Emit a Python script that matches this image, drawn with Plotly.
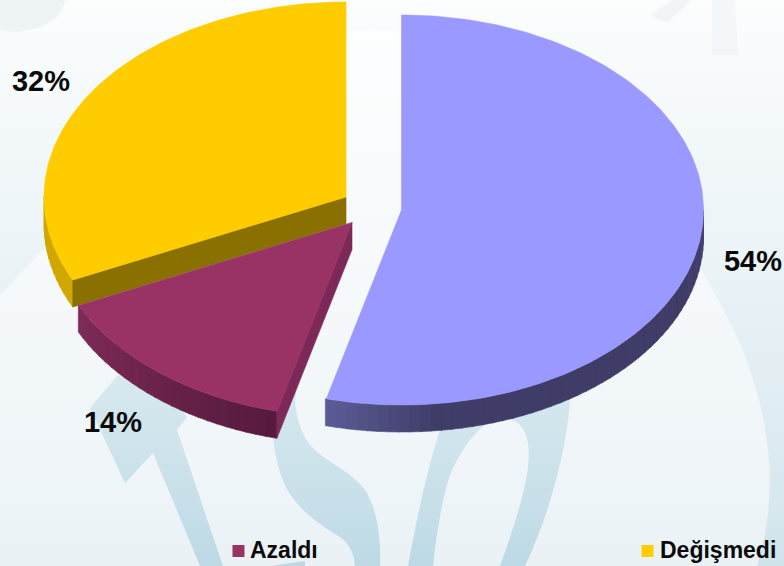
import math
import plotly.graph_objects as go

categories = ["Arttı", "Azaldı", "Değişmedi"]
percent_values = [54, 14, 32]
legend_items = ["Azaldı", "Değişmedi"]

top_colors = ["#9999ff", "#993366", "#ffcc00"]
cut_colors = ["#5a5a94", "#7d2856", "#8a7000"]
side_start = ["#5c5c96", "#7e2b58", "#d0a800"]   # at the slice's left end
side_end = ["#3f3d68", "#561a3e", "#d0a800"]     # towards the slice's right end
centers = [(401.5, 210), (352, 222.5), (346, 197)]
RX, RY, DEPTH = 302, 195, 27
W, H = 784, 566


def pt(c, deg, dz=0):
    a = math.radians(deg)
    return c[0] + RX * math.sin(a), c[1] - RY * math.cos(a) + dz


def hex2rgb(h):
    return [int(h[i:i + 2], 16) for i in (1, 3, 5)]


def mix(a, b, t):
    ra, rb = hex2rgb(a), hex2rgb(b)
    return "rgb(%d,%d,%d)" % tuple(round(x + (y - x) * t) for x, y in zip(ra, rb))


fig = go.Figure()


def poly(pts, color):
    xs = [p[0] for p in pts] + [pts[0][0]]
    ys = [p[1] for p in pts] + [pts[0][1]]
    fig.add_trace(go.Scatter(x=xs, y=ys, mode="lines", fill="toself", fillcolor=color,
                             line=dict(color=color, width=0.6), hoverinfo="skip",
                             showlegend=False))


# slice angles from the values, clockwise from 12 o'clock
total = sum(percent_values)
angles = []
acc = 0
for v in percent_values:
    angles.append((acc / total * 360, (acc + v) / total * 360))
    acc += v

# draw order: yellow, maroon, purple
for i in (2, 1, 0):
    c = centers[i]
    a0, a1 = angles[i]
    # outer rim (only the front half of the ellipse shows)
    s0, s1 = max(a0, 90), min(a1, 270)
    if s1 > s0:
        n = max(2, int((s1 - s0) / 2))
        for k in range(n):
            t0 = s0 + (s1 - s0) * k / n
            t1 = s0 + (s1 - s0) * (k + 1) / n + 0.2
            tc = (s1 - (t0 + t1) / 2) / (s1 - s0)   # 0 at the left end, 1 at the right end
            if i == 0:
                tc = min(1, tc * 5)                 # purple darkens quickly
            poly([pt(c, t0), pt(c, t1), pt(c, t1, DEPTH), pt(c, t0, DEPTH)],
                 mix(side_start[i], side_end[i], tc))
    # visible cut face
    if i in (1, 2):
        poly([c, pt(c, a0), pt(c, a0, DEPTH), (c[0], c[1] + DEPTH)], cut_colors[i])
    # top face
    steps = int((a1 - a0) / 1) + 1
    arc = [pt(c, a0 + (a1 - a0) * k / steps) for k in range(steps + 1)]
    poly([c] + arc, top_colors[i])

# percentage labels
label_x = [753, 113, 41]
label_y = [264, 425, 84]
fig.add_trace(go.Scatter(x=label_x, y=label_y, mode="text",
                         text=[f"{v}%" for v in percent_values], textposition="middle center",
                         textfont=dict(family="Liberation Sans", size=29, color="#0a0a0a", weight="bold"),
                         hoverinfo="skip", showlegend=False))

# legend
legend_x = [238.5, 647.5]
legend_y = [551, 551]
fig.add_trace(go.Scatter(x=legend_x, y=legend_y, mode="markers",
                         marker=dict(symbol="square", size=12, color=[top_colors[1], top_colors[2]],
                                     line=dict(width=0)),
                         hoverinfo="skip", showlegend=False))
fig.add_trace(go.Scatter(x=[250, 660], y=[552, 552], mode="text", text=legend_items,
                         textposition="middle right",
                         textfont=dict(family="Liberation Sans", size=23, color="#0a0a0a", weight="bold"),
                         hoverinfo="skip", showlegend=False))

# background watermark
BAND = "#bcd9e5"
OUTER = "#cfe3eb"
shapes = []


def path(d, color, opacity=1.0):
    shapes.append(dict(type="path", path=d, xref="x", yref="y", fillcolor=color, opacity=opacity,
                       line=dict(width=0), layer="below"))


path("M0,0 L784,0 L784,566 L757,566 C777,500 775,430 740,343 C715,290 690,250 640,170 "
     "C560,70 450,30 370,30 C250,30 100,190 0,295 Z", OUTER)
path("M118,375 L90,408 L125,483 L153,453 L200,566 L223,566 L177,430 L187,417 L160,380 Z", BAND)
path("M273,437 C276,465 283,485 292,497 C305,515 325,528 340,537 C350,545 354,553 355,566 L380,566 "
     "C381,540 378,510 365,490 C350,470 325,462 310,445 C300,432 296,415 295,400 L300,370 L270,380 Z", BAND)
path("M408,566 C418,510 430,460 440,430 L570,400 C568,440 552,510 525,566 L500,566 C520,510 532,470 528,443 "
     "C525,425 515,418 500,418 C485,420 465,440 450,475 C443,495 437,530 433,566 Z", BAND)
path("M270,566 L305,561 L305,566 Z", BAND)

# vertical fade of the watermark towards the top
STEP = 8
for y in range(0, H, STEP):
    alpha = 0.92 * (1 - (y + STEP / 2) / H) ** 0.75
    shapes.append(dict(type="rect", xref="x", yref="y", x0=0, x1=W, y0=y, y1=y + STEP,
                       fillcolor="white", opacity=alpha, line=dict(width=0), layer="below"))

# faint marks at the top edge
path("M0,0 L65,0 C62,20 40,32 10,32 L0,30 Z", "#dde6ea", 0.4)
path("M650,15 L672,0 L692,0 L667,23 Z", "#dde6ea", 0.3)
path("M712,0 L735,0 L738,55 L712,55 Z", "#dde6ea", 0.2)

fig.update_layout(
    width=W, height=H, margin=dict(l=0, r=0, t=0, b=0),
    paper_bgcolor="#eaf2f6", plot_bgcolor="rgba(0,0,0,0)",
    showlegend=False, shapes=shapes,
    xaxis=dict(range=[0, W], visible=False, fixedrange=True),
    yaxis=dict(range=[H, 0], visible=False, fixedrange=True),
)
fig.write_html("out.html", config=dict(displayModeBar=False),
               post_script="document.body.style.margin='0';document.body.style.overflow='hidden';")
